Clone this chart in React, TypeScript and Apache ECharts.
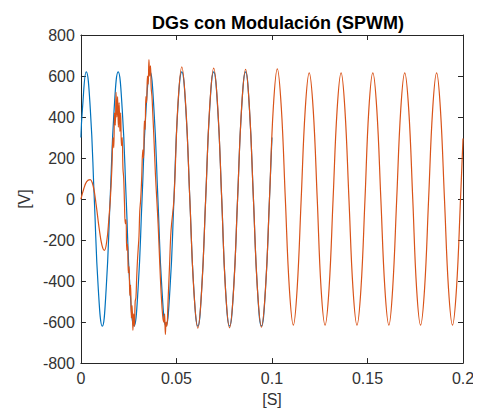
import React, { useEffect, useRef } from "react";
import * as echarts from "echarts";

const chartTitle = "DGs con Modulación (SPWM)";
const xLabel = "[S]";
const yLabel = "[V]";

// Blue trace (reference sine), time [s] and voltage [V]
const blueTime = [
  0, 0.0008, 0.0028, 0.0049, 0.007, 0.0091, 0.0112, 0.0132, 0.0153, 0.0174,
  0.0195, 0.0216, 0.0237, 0.0257, 0.0278, 0.0299, 0.032, 0.0341, 0.0362, 0.0382,
  0.0403, 0.0424, 0.0445, 0.0466, 0.0487, 0.0507, 0.0528, 0.0549, 0.057, 0.0591,
  0.0612, 0.0632, 0.0653, 0.0674, 0.0695, 0.0716, 0.0737, 0.0757, 0.0778, 0.0799,
  0.082, 0.0841, 0.0862, 0.0882, 0.0903, 0.0924, 0.0945, 0.0966, 0.0987, 0.1,
];
const blueVolt = [
  300, 440, 620, 440, 0, -440, -620, -440, 0, 440,
  620, 440, 0, -440, -620, -440, 0, 440, 620, 440,
  0, -440, -620, -440, 0, 440, 620, 440, 0, -440,
  -620, -440, 0, 440, 620, 440, 0, -440, -620, -440,
  0, 440, 620, 440, 0, -440, -620, -440, 0, 300,
];

// Orange trace (modulated DG output), time [s] and voltage [V]
const orangeTime = [
  0, 0.0015, 0.003, 0.0048, 0.0065, 0.008, 0.0095, 0.011, 0.0123, 0.0136,
  0.0146, 0.0154, 0.0162, 0.0168, 0.0172, 0.0176, 0.018, 0.0184, 0.0188, 0.0192,
  0.0196, 0.02, 0.0204, 0.0208, 0.0212, 0.0216, 0.022, 0.0224, 0.0228, 0.0232,
  0.0236, 0.024, 0.0244, 0.0248, 0.0252, 0.0256, 0.026, 0.0264, 0.0268, 0.0272,
  0.0276, 0.028, 0.0284, 0.0288, 0.0292, 0.0296, 0.03, 0.0304, 0.0308, 0.0313,
  0.0318, 0.0324, 0.0328, 0.0332, 0.0336, 0.034, 0.0344, 0.0348, 0.0352, 0.0356,
  0.036, 0.0364, 0.0368, 0.0372, 0.0376, 0.0382, 0.039, 0.0397, 0.0404, 0.0412,
  0.042, 0.0428, 0.0434, 0.0438, 0.0442, 0.0446, 0.045, 0.0456, 0.0464, 0.0472,
  0.0487, 0.0507, 0.0528, 0.0549, 0.057, 0.0591, 0.0612, 0.0632, 0.0653, 0.0674,
  0.0695, 0.0716, 0.0737, 0.0757, 0.0778, 0.0799, 0.082, 0.0841, 0.0862, 0.0882,
  0.0903, 0.0924, 0.0945, 0.0966, 0.0987, 0.1007, 0.1028, 0.1049, 0.107, 0.1091,
  0.1112, 0.1132, 0.1153, 0.1174, 0.1195, 0.1216, 0.1237, 0.1257, 0.1278, 0.1299,
  0.132, 0.1341, 0.1362, 0.1382, 0.1403, 0.1424, 0.1445, 0.1466, 0.1487, 0.1507,
  0.1528, 0.1549, 0.157, 0.1591, 0.1612, 0.1632, 0.1653, 0.1674, 0.1695, 0.1716,
  0.1737, 0.1757, 0.1778, 0.1799, 0.182, 0.1841, 0.1862, 0.1882, 0.1903, 0.1924,
  0.1945, 0.1966, 0.1987, 0.2,
];
const orangeVolt = [
  0, 50, 85, 95, 60, -30, -140, -225, -250, -200,
  -100, 0, 150, 300, 250, 420, 360, 520, 400, 500,
  350, 470, 330, 420, 260, 300, 150, 100, -20, -120,
  -100, -250, -220, -360, -330, -470, -420, -580, -520, -640,
  -560, -620, -500, -480, -380, -300, -240, -180, -60, 0,
  100, 240, 200, 380, 340, 500, 470, 600, 560, 680,
  600, 650, 540, 500, 420, 300, 120, 0, -120, -300,
  -460, -570, -600, -560, -660, -600, -620, -500, -320, -150,
  0, 450, 645, 450, 0, -445, -630, -445, 0, 450,
  638, 450, 0, -445, -628, -445, 0, 445, 632, 445,
  0, -440, -625, -440, 0, 445, 635, 445, 0, -435,
  -615, -435, 0, 435, 615, 435, 0, -435, -615, -435,
  0, 435, 615, 435, 0, -435, -615, -435, 0, 435,
  615, 435, 0, -435, -615, -435, 0, 435, 615, 435,
  0, -435, -615, -435, 0, 435, 615, 435, 0, -435,
  -615, -435, 0, 295,
];

const xTicks = [0, 0.05, 0.1, 0.15, 0.2];
const yTicks = [-800, -600, -400, -200, 0, 200, 400, 600, 800];

const AXIS = "#262626";
const LABEL = "#333333";
const FONT = "'Liberation Sans', Arial, Helvetica, sans-serif";

export default function App() {
  const ref = useRef<HTMLDivElement>(null);
  useEffect(() => {
    if (!ref.current) return;
    const chart = echarts.init(ref.current, undefined, { renderer: "svg" });
    const blue = blueTime.map((t, i) => [t, blueVolt[i]]);
    const orange = orangeTime.map((t, i) => [t, orangeVolt[i]]);
    const xMin = xTicks[0];
    const xMax = xTicks[xTicks.length - 1];
    const xInt = xTicks[1] - xTicks[0];
    const yMin = yTicks[0];
    const yMax = yTicks[yTicks.length - 1];
    const yInt = yTicks[1] - yTicks[0];
    const axisCommon = {
      axisLine: { show: true, onZero: false, lineStyle: { color: AXIS, width: 1 } },
      axisTick: { show: true, inside: true, length: 5, lineStyle: { color: AXIS } },
      splitLine: { show: false },
    };
    chart.setOption({
      animation: false,
      backgroundColor: "#ffffff",
      title: {
        text: chartTitle,
        left: 265,
        top: 1,
        textAlign: "center",
        textStyle: { fontFamily: FONT, fontSize: 18, fontWeight: "bold", color: "#000" },
      },
      grid: { left: 70, right: 18, top: 27, bottom: 47, containLabel: false },
      xAxis: [
        {
          type: "value",
          min: xMin,
          max: xMax,
          interval: xInt,
          position: "bottom",
          name: xLabel,
          nameLocation: "middle",
          nameGap: 24,
          nameTextStyle: { fontFamily: FONT, fontSize: 16, color: LABEL },
          axisLabel: { fontFamily: FONT, fontSize: 16, color: LABEL, margin: 7 },
          ...axisCommon,
        },
        {
          type: "value",
          min: xMin,
          max: xMax,
          interval: xInt,
          position: "top",
          axisLabel: { show: false },
          ...axisCommon,
        },
      ],
      yAxis: [
        {
          type: "value",
          min: yMin,
          max: yMax,
          interval: yInt,
          position: "left",
          name: yLabel,
          nameLocation: "middle",
          nameGap: 46,
          nameRotate: 90,
          nameTextStyle: { fontFamily: FONT, fontSize: 16, color: LABEL },
          axisLabel: { fontFamily: FONT, fontSize: 16, color: LABEL, margin: 6 },
          ...axisCommon,
        },
        {
          type: "value",
          min: yMin,
          max: yMax,
          interval: yInt,
          position: "right",
          axisLabel: { show: false },
          ...axisCommon,
        },
      ],
      series: [
        {
          type: "line",
          data: blue,
          showSymbol: false,
          smooth: true,
          lineStyle: { color: "#0072BD", width: 1.2 },
          xAxisIndex: 0,
          yAxisIndex: 0,
          z: 2,
        },
        {
          type: "line",
          data: orange,
          showSymbol: false,
          smooth: 0.4,
          lineStyle: { color: "#D95319", width: 1.2 },
          xAxisIndex: 0,
          yAxisIndex: 0,
          z: 3,
        },
      ],
    });
    return () => chart.dispose();
  }, []);
  return <div ref={ref} style={{ width: 473, height: 404 }} />;
}
